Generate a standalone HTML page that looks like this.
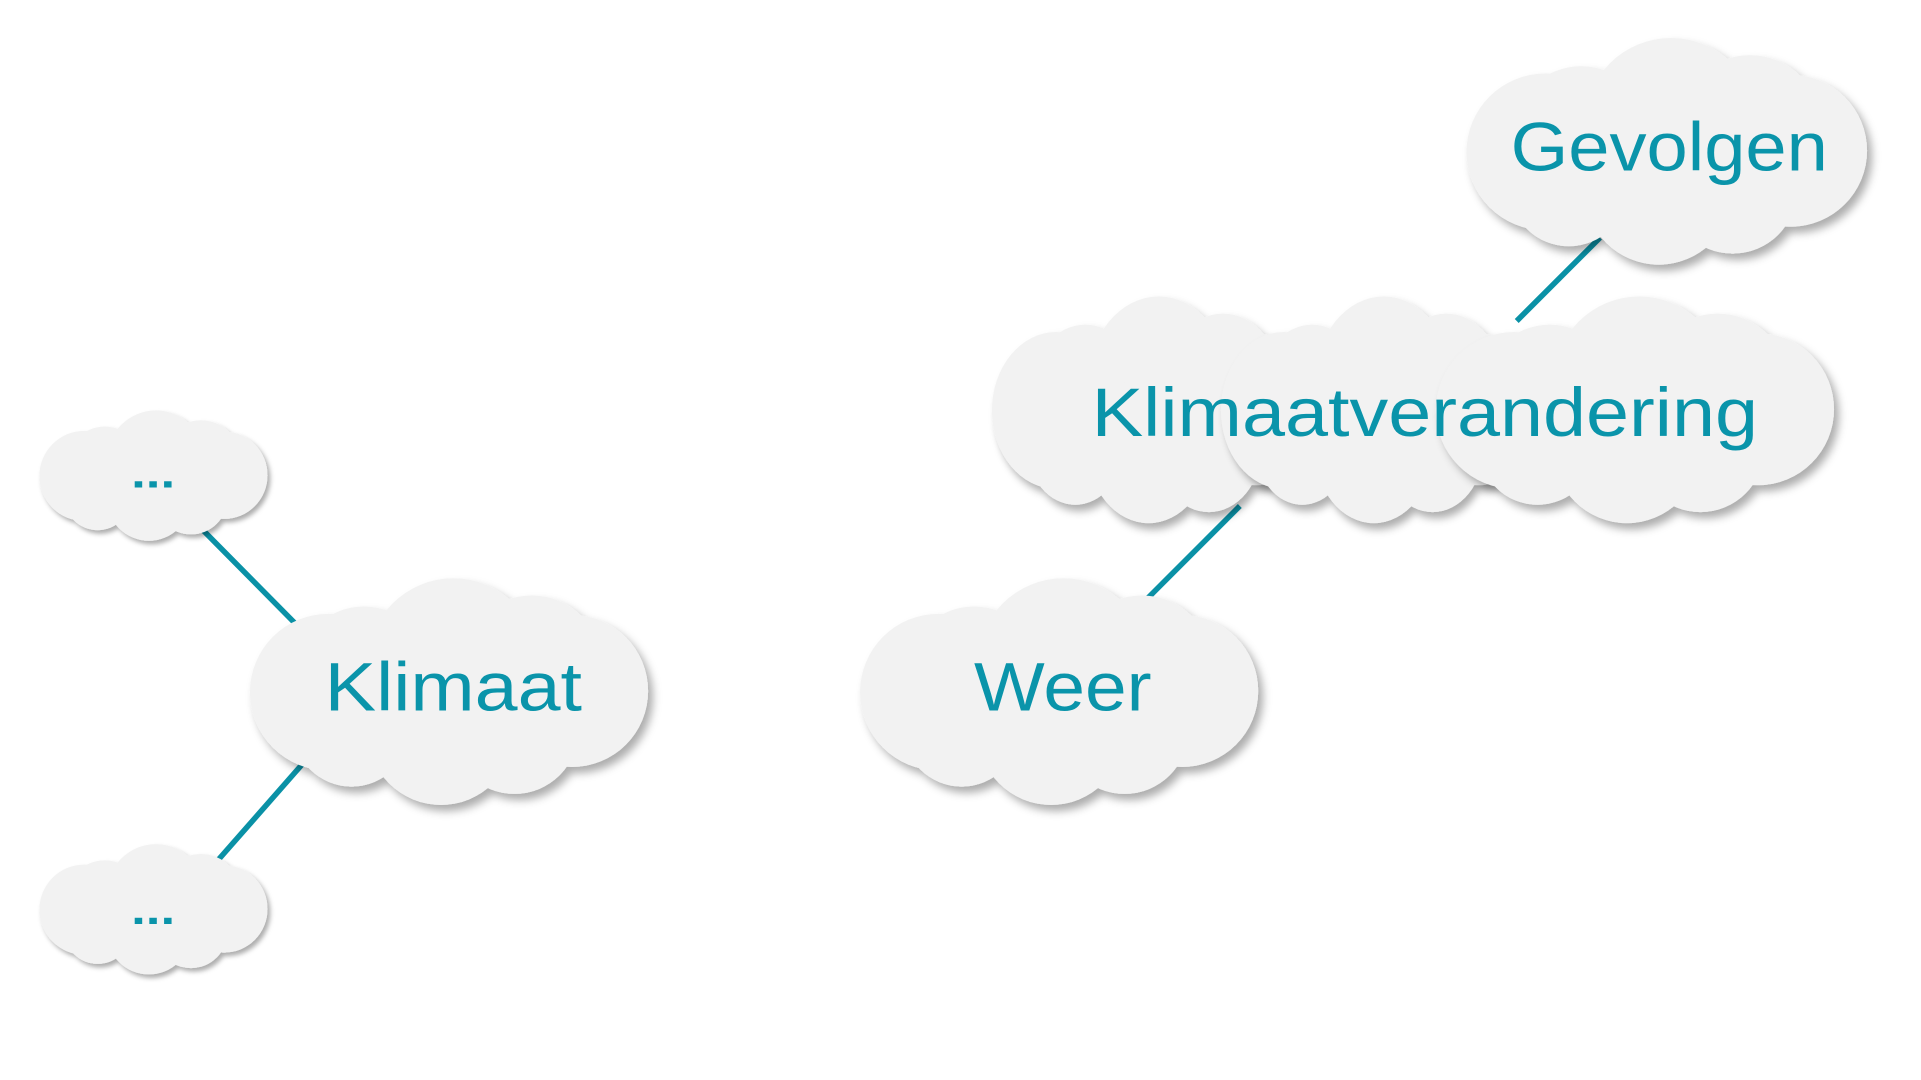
<!DOCTYPE html>
<html><head><meta charset="utf-8"><style>
html,body{margin:0;padding:0;background:#fff;width:1921px;height:1080px;overflow:hidden}
svg{display:block}
text{font-family:"Liberation Sans",sans-serif;fill:#0a94aa}
</style></head><body>
<svg width="1921" height="1080" viewBox="0 0 1568 881.5" preserveAspectRatio="none">
<defs>
<filter id="sh" x="-20%" y="-20%" width="150%" height="150%">
<feDropShadow dx="4" dy="5" stdDeviation="3.5" flood-color="#000" flood-opacity="0.32"/>
</filter>
<g id="cl">
<ellipse cx="164" cy="95" rx="125" ry="62"/>
<circle cx="95" cy="78" r="55"/>
<circle cx="168" cy="70" r="70"/>
<circle cx="232" cy="72" r="58"/>
<circle cx="265" cy="92" r="62"/>
<circle cx="66" cy="93" r="64"/>
<circle cx="85" cy="122" r="48"/>
<circle cx="158" cy="125" r="60"/>
<circle cx="218" cy="124" r="52"/>
</g>
</defs>
<g stroke="#0a91a6" stroke-width="4.5" stroke-linecap="butt">
<line x1="165" y1="432" x2="250" y2="518"/>
<line x1="250" y1="620" x2="178" y2="702"/>
<line x1="937" y1="488" x2="1012" y2="413"/>
<line x1="1238" y1="262" x2="1306" y2="194"/>
</g>
<g fill="#f2f2f2">
<g filter="url(#sh)" transform="translate(31,335) scale(0.573,0.575)"><use href="#cl"/></g>
<g filter="url(#sh)" transform="translate(31,689) scale(0.573,0.575)"><use href="#cl"/></g>
<g filter="url(#sh)" transform="translate(202,472)"><use href="#cl"/></g>
<g filter="url(#sh)" transform="translate(700,472)"><use href="#cl"/></g>
<g filter="url(#sh)" transform="translate(1195,31) scale(1.006,1.0)"><use href="#cl"/></g>
<g filter="url(#sh)" transform="translate(808,242) scale(0.82,1.0)"><use href="#cl"/></g>
<g filter="url(#sh)" transform="translate(995,242) scale(0.8,1.0)"><use href="#cl"/></g>
<g filter="url(#sh)" transform="translate(1170,242)"><use href="#cl"/></g>
</g>
<text x="265" y="580" font-size="56" textLength="210" lengthAdjust="spacingAndGlyphs">Klimaat</text>
<text x="795" y="580" font-size="56" textLength="145" lengthAdjust="spacingAndGlyphs">Weer</text>
<text x="1233" y="139" font-size="56" textLength="259" lengthAdjust="spacingAndGlyphs">Gevolgen</text>
<text x="891" y="356" font-size="56" textLength="544" lengthAdjust="spacingAndGlyphs">Klimaatverandering</text>
<text x="107" y="398" font-size="34" font-weight="bold" textLength="36" lengthAdjust="spacingAndGlyphs">...</text>
<text x="107" y="754" font-size="34" font-weight="bold" textLength="36" lengthAdjust="spacingAndGlyphs">...</text>
</svg>
</body></html>
